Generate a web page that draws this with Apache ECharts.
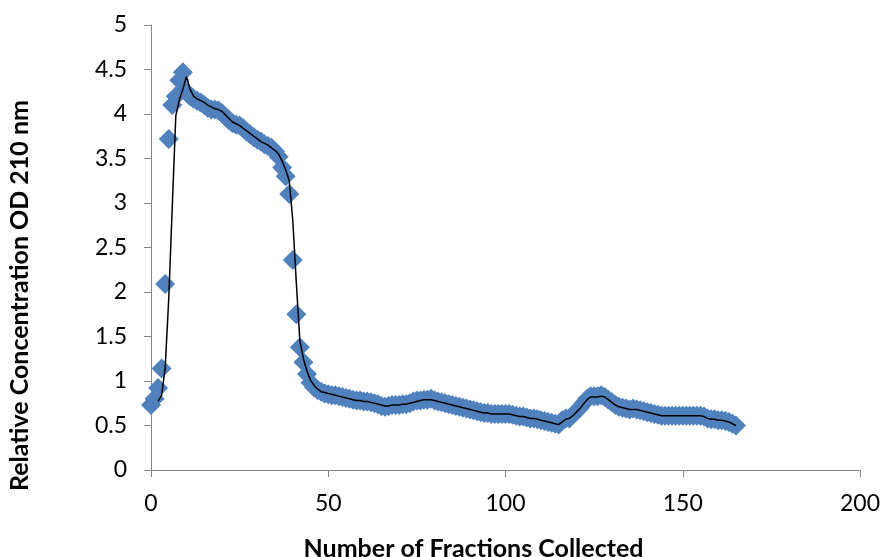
<!DOCTYPE html>
<html>
<head>
<meta charset="utf-8">
<script src="https://cdn.jsdelivr.net/npm/echarts@6/dist/echarts.min.js"></script>
<style>
  html, body { margin: 0; padding: 0; background: #ffffff; }
  #chart { width: 885px; height: 557px; }
</style>
</head>
<body>
<div id="chart"></div>
<script>
// Fraction numbers (x) and the measured absorbance for each fraction
const fractions = Array.from({ length: 166 }, (_, i) => i);
const odValues = [
  0.73, 0.80, 0.92, 1.14, 2.09, 3.72, 4.10, 4.20, 4.38, 4.47,
  4.25, 4.20, 4.17, 4.15, 4.13, 4.10, 4.07, 4.05, 4.05, 4.04,
  4.01, 3.97, 3.93, 3.90, 3.88, 3.87, 3.84, 3.80, 3.77, 3.74,
  3.71, 3.69, 3.66, 3.64, 3.62, 3.58, 3.52, 3.40, 3.30, 3.10,
  2.36, 1.75, 1.38, 1.21, 1.08, 0.98, 0.93, 0.90, 0.88, 0.86,
  0.85, 0.84, 0.84, 0.83, 0.82, 0.81, 0.80, 0.79, 0.78, 0.78,
  0.77, 0.77, 0.76, 0.75, 0.74, 0.72, 0.71, 0.72, 0.73, 0.73,
  0.73, 0.74, 0.74, 0.75, 0.77, 0.78, 0.78, 0.79, 0.79, 0.80,
  0.78, 0.77, 0.76, 0.75, 0.74, 0.73, 0.72, 0.71, 0.70, 0.69,
  0.68, 0.67, 0.66, 0.65, 0.64, 0.64, 0.63, 0.63, 0.63, 0.63,
  0.63, 0.63, 0.62, 0.61, 0.60, 0.60, 0.59, 0.58, 0.58, 0.57,
  0.56, 0.55, 0.54, 0.53, 0.52, 0.51, 0.56, 0.58, 0.58, 0.62,
  0.66, 0.70, 0.75, 0.80, 0.83, 0.83, 0.83, 0.84, 0.82, 0.79,
  0.76, 0.73, 0.71, 0.70, 0.69, 0.68, 0.69, 0.68, 0.67, 0.66,
  0.65, 0.64, 0.63, 0.62, 0.61, 0.61, 0.61, 0.61, 0.61, 0.61,
  0.61, 0.61, 0.61, 0.61, 0.61, 0.61, 0.60, 0.58, 0.57, 0.57,
  0.56, 0.56, 0.55, 0.54, 0.52, 0.50
];

// Smoothed trend curve, starting at fraction 2
const trendStart = 2;
const trendValues = [
  0.77, 0.84, 1.15, 1.92, 2.96, 3.98, 4.16, 4.28,
  4.42, 4.28, 4.20, 4.17, 4.15, 4.13, 4.10, 4.08, 4.06, 4.05,
  4.03, 3.99, 3.95, 3.91, 3.89, 3.87, 3.84, 3.81, 3.78, 3.75,
  3.72, 3.69, 3.67, 3.65, 3.62, 3.59, 3.55, 3.47, 3.37, 3.25,
  2.80, 2.10, 1.45, 1.25, 1.11, 1.01, 0.95, 0.91, 0.88, 0.87,
  0.86, 0.85, 0.84, 0.83, 0.82, 0.81, 0.80, 0.79, 0.78, 0.78,
  0.77, 0.77, 0.76, 0.75, 0.74, 0.73, 0.72, 0.72, 0.73, 0.73,
  0.73, 0.74, 0.74, 0.75, 0.76, 0.77, 0.78, 0.79, 0.79, 0.79,
  0.78, 0.77, 0.76, 0.75, 0.74, 0.73, 0.72, 0.71, 0.70, 0.69,
  0.68, 0.67, 0.66, 0.65, 0.64, 0.64, 0.63, 0.63, 0.63, 0.63,
  0.63, 0.63, 0.62, 0.61, 0.60, 0.60, 0.59, 0.58, 0.58, 0.57,
  0.56, 0.55, 0.54, 0.53, 0.52, 0.51, 0.54, 0.57, 0.58, 0.61,
  0.65, 0.69, 0.74, 0.79, 0.82, 0.82, 0.82, 0.83, 0.82, 0.79,
  0.76, 0.73, 0.71, 0.70, 0.69, 0.68, 0.68, 0.68, 0.67, 0.66,
  0.65, 0.64, 0.63, 0.62, 0.61, 0.61, 0.61, 0.61, 0.61, 0.61,
  0.61, 0.61, 0.61, 0.61, 0.61, 0.61, 0.60, 0.58, 0.57, 0.57,
  0.56, 0.56, 0.55, 0.54, 0.52, 0.50
];

const xTicks = { min: 0, max: 200, interval: 50 };
const yTicks = { min: 0, max: 5, interval: 0.5 };

const scatterData = fractions.map((f, i) => [f, odValues[i]]);
const trendData = trendValues.map((v, i) => [trendStart + i, v]);

const axisGray = '#868686';
const font = 'Lato, "Open Sans", sans-serif';

const chart = echarts.init(document.getElementById('chart'), null, { renderer: 'canvas' });
chart.setOption({
  animation: false,
  backgroundColor: '#ffffff',
  grid: { left: 151, right: 25, top: 25, bottom: 87, containLabel: false, outerBoundsMode: 'none' },
  xAxis: {
    type: 'value',
    min: xTicks.min, max: xTicks.max, interval: xTicks.interval,
    name: 'Number of Fractions Collected',
    nameLocation: 'middle',
    nameGap: 66,
    nameTextStyle: { fontFamily: font, fontSize: 25, fontWeight: 'bold', color: '#000', padding: [0, 64, 0, 0] },
    axisLine: { show: true, lineStyle: { color: axisGray, width: 1 } },
    axisTick: { show: true, inside: false, length: 7, lineStyle: { color: axisGray } },
    axisLabel: { fontFamily: font, fontSize: 23, color: '#000', margin: 22 },
    splitLine: { show: false }
  },
  yAxis: {
    type: 'value',
    min: yTicks.min, max: yTicks.max, interval: yTicks.interval,
    name: 'Relative Concentration OD 210 nm',
    nameLocation: 'middle',
    nameGap: 119,
    nameTextStyle: { fontFamily: font, fontSize: 25, fontWeight: 'bold', color: '#000', padding: [0, 96, 0, 0] },
    axisLine: { show: true, lineStyle: { color: axisGray, width: 1 } },
    axisTick: { show: true, inside: false, length: 7, lineStyle: { color: axisGray } },
    axisLabel: { fontFamily: font, fontSize: 23, color: '#000', margin: 24 },
    splitLine: { show: false }
  },
  series: [
    {
      type: 'scatter',
      data: scatterData,
      symbol: 'diamond',
      symbolSize: [20, 20],
      itemStyle: { color: '#4F81BD', opacity: 1 },
      z: 2
    },
    {
      type: 'line',
      data: trendData,
      showSymbol: false,
      symbol: 'none',
      lineStyle: { color: '#000000', width: 1.5 },
      z: 3
    }
  ]
});
</script>
</body>
</html>
